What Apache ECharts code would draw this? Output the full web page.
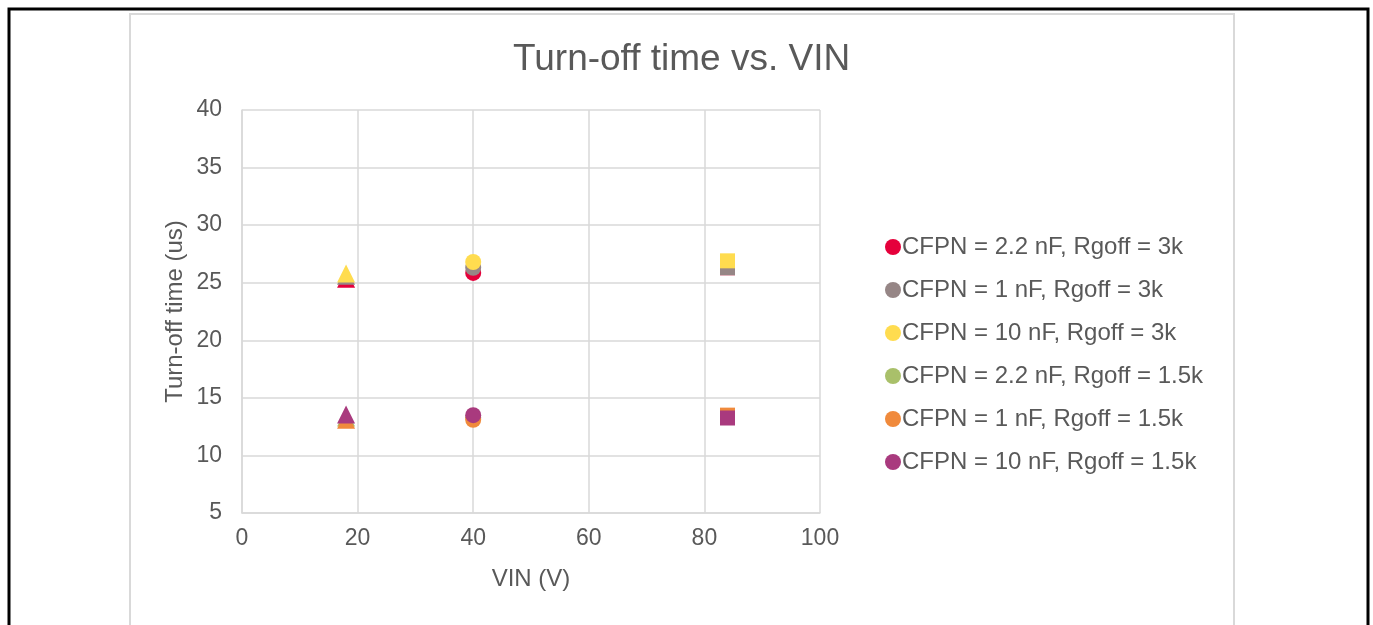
<!DOCTYPE html>
<html>
<head>
<meta charset="utf-8">
<script src="https://cdn.jsdelivr.net/npm/echarts@6/dist/echarts.min.js"></script>
<style>
html,body{margin:0;padding:0;background:#fff;}
#c{width:1373px;height:625px;}
</style>
</head>
<body>
<div id="c"></div>
<script>
const seriesNames = [
  'CFPN = 2.2 nF, Rgoff = 3k',
  'CFPN = 1 nF, Rgoff = 3k',
  'CFPN = 10 nF, Rgoff = 3k',
  'CFPN = 2.2 nF, Rgoff = 1.5k',
  'CFPN = 1 nF, Rgoff = 1.5k',
  'CFPN = 10 nF, Rgoff = 1.5k'
];
const vin = [18, 40, 84];
const red2p2_3k = [25.35, 25.85, 26.3];
const gray1_3k = [25.6, 26.3, 26.3];
const yellow10_3k = [25.8, 26.8, 26.9];
const green2p2_1p5k = [13.3, 13.3, 13.4];
const orange1_1p5k = [13.1, 13.1, 13.5];
const purple10_1p5k = [13.55, 13.5, 13.25];
const colors = ['#E5003B', '#968686', '#FFDC4F', '#A9C06A', '#F08A3C', '#A93A7E'];
const allValues = [red2p2_3k, gray1_3k, yellow10_3k, green2p2_1p5k, orange1_1p5k, purple10_1p5k];

const font = 'Liberation Sans, Arial, sans-serif';
const txt = '#595959';

function symFor(v) {
  if (v[0] === 18) return 'triangle';
  if (v[0] === 40) return 'circle';
  return 'rect';
}
function sizeFor(v) {
  if (v[0] === 18) return 18;
  if (v[0] === 40) return 16;
  return 15;
}

const chart = echarts.init(document.getElementById('c'), null, {renderer: 'canvas'});
chart.setOption({
  animation: false,
  backgroundColor: '#fff',
  graphic: [
    {type: 'rect', shape: {x: 9, y: 9, width: 1359, height: 640}, style: {fill: 'none', stroke: '#000', lineWidth: 3}, z: -10},
    {type: 'rect', shape: {x: 130, y: 14, width: 1104, height: 640}, style: {fill: 'none', stroke: '#D9D9D9', lineWidth: 2}, z: -10}
  ],
  title: {
    text: 'Turn-off time vs. VIN',
    left: 508,
    top: 36,
    textStyle: {fontFamily: font, fontSize: 37, fontWeight: 'normal', color: txt}
  },
  legend: {
    orient: 'vertical',
    left: 880,
    top: 230,
    itemWidth: 16,
    itemHeight: 16,
    itemGap: 19,
    icon: 'circle',
    textStyle: {fontFamily: font, fontSize: 24, color: txt, padding: [0, 0, 0, -4]},
    data: seriesNames
  },
  grid: {left: 242, top: 110, width: 578, height: 403, containLabel: false},
  xAxis: {
    type: 'value', min: 0, max: 100, interval: 20,
    name: 'VIN (V)', nameLocation: 'middle', nameGap: 54,
    nameTextStyle: {fontFamily: font, fontSize: 24, color: txt},
    axisLine: {show: true, lineStyle: {color: '#D9D9D9', width: 1.5}},
    axisTick: {show: false},
    axisLabel: {fontFamily: font, fontSize: 23, color: txt, margin: 14},
    splitLine: {show: true, lineStyle: {color: '#D9D9D9', width: 1.5}}
  },
  yAxis: {
    type: 'value', min: 5, max: 40, interval: 5,
    name: 'Turn-off time (us)', nameLocation: 'middle', nameGap: 55,
    nameTextStyle: {fontFamily: font, fontSize: 24, color: txt},
    axisLine: {show: true, lineStyle: {color: '#D9D9D9', width: 1.5}},
    axisTick: {show: false},
    axisLabel: {fontFamily: font, fontSize: 23, color: txt, margin: 20},
    splitLine: {show: true, lineStyle: {color: '#D9D9D9', width: 1.5}}
  },
  series: seriesNames.map((n, i) => ({
    name: n,
    type: 'scatter',
    data: vin.map((x, j) => [x, allValues[i][j]]),
    symbol: symFor,
    symbolSize: sizeFor,
    itemStyle: {color: colors[i], opacity: 1},
    z: 2 + i
  }))
});
</script>
</body>
</html>
